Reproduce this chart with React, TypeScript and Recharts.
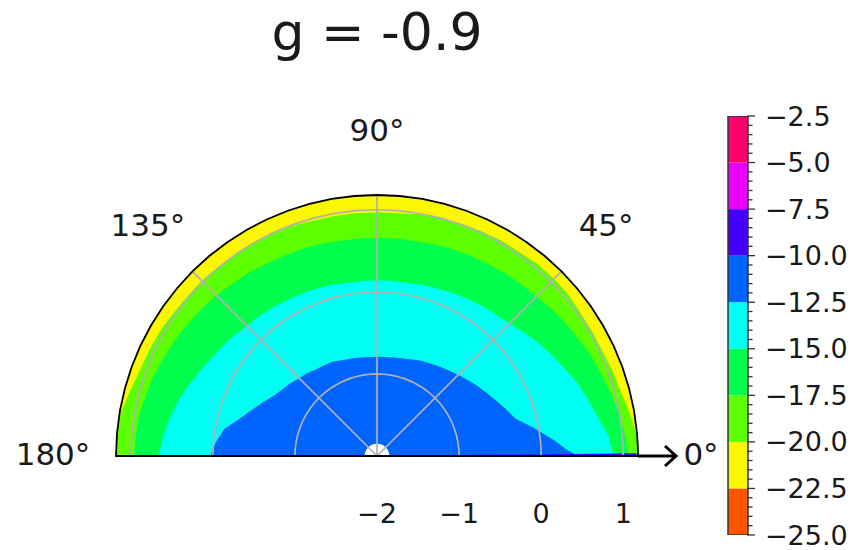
import React from "react";
import {
  RadarChart,
  Radar,
  PolarAngleAxis,
  PolarRadiusAxis,
  ComposedChart,
  Bar,
  XAxis,
  YAxis,
} from "recharts";

const FONT = "DejaVu Sans";
const INK = "#1a1a1a";
const GRID = "#b0b0b0";

// sampled angles (deg) for the contour boundaries
const angles = [
  0, 0.6, 2, 5, 10, 15, 20, 25, 30, 35, 40, 45, 50, 55, 60, 65, 70, 75, 80, 85,
  90, 95, 100, 105, 110, 115, 120, 125, 130, 135, 140, 145, 150, 155, 160, 165,
  170, 175, 180,
];

const radiusDomain = [-2, 1.18];
const radiusTicks = [-2, -1, 0, 1];
const angleTicks = [0, 45, 90, 135, 180];
const gridRings = [-1, 0, 1];
const gridSpokes = [45, 90, 135];

// outer edge of each filled band (radial units), one value per angle
const limeOuter = [
  1.18, 1.18, 1.18, 1.17, 1.12, 1.07, 1.05, 1.03, 1.03, 1.03, 1.05, 1.05, 1.05,
  1.03, 1.03, 1.02, 1.01, 1.0, 0.99, 0.97, 0.97, 0.97, 0.97, 0.97, 0.99, 0.99,
  1.0, 1.0, 1.01, 1.02, 1.02, 1.03, 1.05, 1.06, 1.07, 1.11, 1.16, 1.18, 1.18,
];
const greenOuter = [
  1.06, 1.06, 1.06, 1.03, 1.0, 0.95, 0.91, 0.88, 0.84, 0.81, 0.78, 0.75, 0.73,
  0.72, 0.7, 0.69, 0.68, 0.67, 0.66, 0.66, 0.66, 0.66, 0.66, 0.67, 0.68, 0.69,
  0.7, 0.73, 0.74, 0.77, 0.79, 0.81, 0.84, 0.86, 0.89, 0.91, 0.94, 0.95, 0.96,
];
const cyanOuter = [
  0.88, 0.88, 0.86, 0.83, 0.73, 0.66, 0.6, 0.52, 0.46, 0.4, 0.34, 0.28, 0.25,
  0.23, 0.21, 0.19, 0.17, 0.16, 0.14, 0.14, 0.14, 0.14, 0.14, 0.16, 0.17, 0.18,
  0.19, 0.21, 0.23, 0.24, 0.28, 0.31, 0.35, 0.4, 0.46, 0.52, 0.57, 0.62, 0.66,
];
const blueOuter = [
  0.41, 0.41, 0.31, 0.17, -0.05, -0.25, -0.33, -0.4, -0.46, -0.51, -0.56, -0.6,
  -0.64, -0.67, -0.7, -0.72, -0.75, -0.77, -0.78, -0.79, -0.79, -0.79, -0.78,
  -0.77, -0.76, -0.73, -0.72, -0.71, -0.68, -0.66, -0.62, -0.59, -0.54, -0.46,
  -0.37, -0.26, -0.11, -0.03, 0.03,
];
// the -10..-7.5 band only shows as a sliver along the 0° edge
const indigoAlongAxis: Record<number, number> = { 0: 1.16, 0.6: 1.16 };
// no data inside this radius
const dataStart = -1.85;

// contour levels and their colours (hsv colormap)
const levels = [-25, -22.5, -20, -17.5, -15, -12.5, -10, -7.5, -5, -2.5];
const levelColors = [
  "#ff5400",
  "#fbf700",
  "#5cff00",
  "#00ff4c",
  "#00fff3",
  "#0064ff",
  "#4400ff",
  "#eb00ff",
  "#ff006c",
];
const cbMinorStep = 0.5;

const rows = angles.map((angle, i) => ({
  angle,
  yellow: radiusDomain[1],
  lime: limeOuter[i],
  green: greenOuter[i],
  cyan: cyanOuter[i],
  blue: blueOuter[i],
  indigo: indigoAlongAxis[angle] ?? radiusDomain[0],
  hole: dataStart,
  ringA: gridRings[0],
  ringB: gridRings[1],
  ringC: gridRings[2],
  spokeA: angle === gridSpokes[0] ? radiusDomain[1] : radiusDomain[0],
  spokeB: angle === gridSpokes[1] ? radiusDomain[1] : radiusDomain[0],
  spokeC: angle === gridSpokes[2] ? radiusDomain[1] : radiusDomain[0],
  frame: radiusDomain[1],
}));

// colorbar: one range per contour level, all in the same column
const cbRow: Record<string, any> = { bar: "cb", frame: [levels[0], levels[levels.length - 1]] };
levelColors.forEach((_, i) => {
  cbRow[`lv${i}`] = [levels[i], levels[i + 1]];
});
const cbData = [cbRow];

const cbTicks: number[] = [];
for (let v = levels[0]; v <= levels[levels.length - 1] + 1e-9; v += cbMinorStep) {
  cbTicks.push(Math.round(v * 10) / 10);
}

const minus = (v: number, digits: number) =>
  (v < 0 ? "\u2212" : "") + Math.abs(v).toFixed(digits);

const AngleTick = (props: any) => {
  const { x, y, payload, cx, cy, radius } = props;
  const v = payload.value;
  const text = (
    <text
      x={x}
      y={y - 2}
      textAnchor="middle"
      dominantBaseline="central"
      fontFamily={FONT}
      fontSize={31}
      fill={INK}
    >
      {`${v}°`}
    </text>
  );
  if (v === 0) {
    const tip = x - 25;
    return (
      <g>
        <line x1={cx + radius} y1={cy} x2={tip} y2={cy} stroke="#000" strokeWidth={3} />
        <polyline
          points={`${tip - 11},${cy - 10} ${tip},${cy} ${tip - 11},${cy + 10}`}
          fill="none"
          stroke="#000"
          strokeWidth={3}
        />
        {text}
      </g>
    );
  }
  return text;
};

const RadiusTick = ({ x, y, payload }: any) => (
  <text
    x={x}
    y={y + 57}
    textAnchor="middle"
    dominantBaseline="central"
    fontFamily={FONT}
    fontSize={27}
    fill={INK}
  >
    {minus(payload.value, 0)}
  </text>
);

// axis sits 1px right of the colour column
const ColorbarTick = ({ x, y, payload }: any) => {
  const v = payload.value;
  const major = levels.includes(v);
  const x0 = x - 1;
  return (
    <g>
      <line x1={x0 - 1} y1={y} x2={x0 + (major ? 7 : 4.5)} y2={y} stroke="#333" strokeWidth={1.3} />
      {major && (
        <text
          x={x0 + 17}
          y={y}
          dominantBaseline="central"
          fontFamily={FONT}
          fontSize={27}
          fill={INK}
        >
          {minus(v, 1)}
        </text>
      )}
    </g>
  );
};

const band = (key: string, color: string) => (
  <Radar
    key={key}
    dataKey={key}
    fill={color}
    fillOpacity={1}
    stroke="none"
    dot={false}
    isAnimationActive={false}
  />
);

const gridLine = (key: string) => (
  <Radar
    key={key}
    dataKey={key}
    fill="none"
    stroke={GRID}
    strokeWidth={1.7}
    dot={false}
    isAnimationActive={false}
  />
);

export default function App() {
  return (
    <div style={{ position: "absolute", left: 0, top: 0, width: 851, height: 550, background: "#fff" }}>
      <svg width={851} height={70} style={{ position: "absolute", left: 0, top: 0 }}>
        <text x={377} y={50} textAnchor="middle" fontFamily={FONT} fontSize={52} fill={INK}>
          g = -0.9
        </text>
      </svg>

      <div style={{ position: "absolute", left: 0, top: 0 }}>
        <RadarChart
          width={720}
          height={550}
          data={rows}
          cx={377}
          cy={456}
          innerRadius={0}
          outerRadius={261}
          startAngle={0}
          endAngle={180}
          margin={{ top: 0, right: 0, bottom: 0, left: 0 }}
        >
          <PolarAngleAxis
            dataKey="angle"
            type="number"
            domain={[0, 180]}
            ticks={angleTicks}
            tickCount={5}
            allowDataOverflow
            axisLine={false}
            tickLine={false}
            tickSize={63}
            tick={<AngleTick />}
          />
          <PolarRadiusAxis
            angle={0}
            type="number"
            domain={radiusDomain}
            ticks={radiusTicks}
            allowDataOverflow
            axisLine={false}
            tickLine={false}
            tick={<RadiusTick />}
          />
          {band("yellow", levelColors[1])}
          {band("lime", levelColors[2])}
          {band("green", levelColors[3])}
          {band("cyan", levelColors[4])}
          {band("blue", levelColors[5])}
          {band("indigo", levelColors[6])}
          {band("hole", "#ffffff")}
          {gridLine("ringA")}
          {gridLine("ringB")}
          {gridLine("ringC")}
          {gridLine("spokeA")}
          {gridLine("spokeB")}
          {gridLine("spokeC")}
          <Radar
            dataKey="frame"
            fill="none"
            stroke="#000"
            strokeWidth={1.8}
            dot={false}
            isAnimationActive={false}
          />
        </RadarChart>
      </div>

      <div style={{ position: "absolute", left: 720, top: 0 }}>
        <ComposedChart
          width={131}
          height={550}
          data={cbData}
          margin={{ top: 116, right: 0, bottom: 15, left: 7 }}
          barCategoryGap={0}
          barGap={-20}
        >
          <XAxis type="category" dataKey="bar" hide />
          <YAxis
            type="number"
            orientation="right"
            domain={[levels[0], levels[levels.length - 1]]}
            allowDataOverflow
            ticks={cbTicks}
            interval={0}
            width={102}
            axisLine={false}
            tickLine={false}
            tickSize={0}
            tickMargin={0}
            tick={<ColorbarTick />}
          />
          {levelColors.map((color, i) => (
            <Bar
              key={color}
              dataKey={`lv${i}`}
              fill={color}
              barSize={20}
              isAnimationActive={false}
            />
          ))}
          <Bar
            dataKey="frame"
            fill="none"
            stroke="#333"
            strokeWidth={1.5}
            barSize={20}
            isAnimationActive={false}
          />
        </ComposedChart>
      </div>
    </div>
  );
}
